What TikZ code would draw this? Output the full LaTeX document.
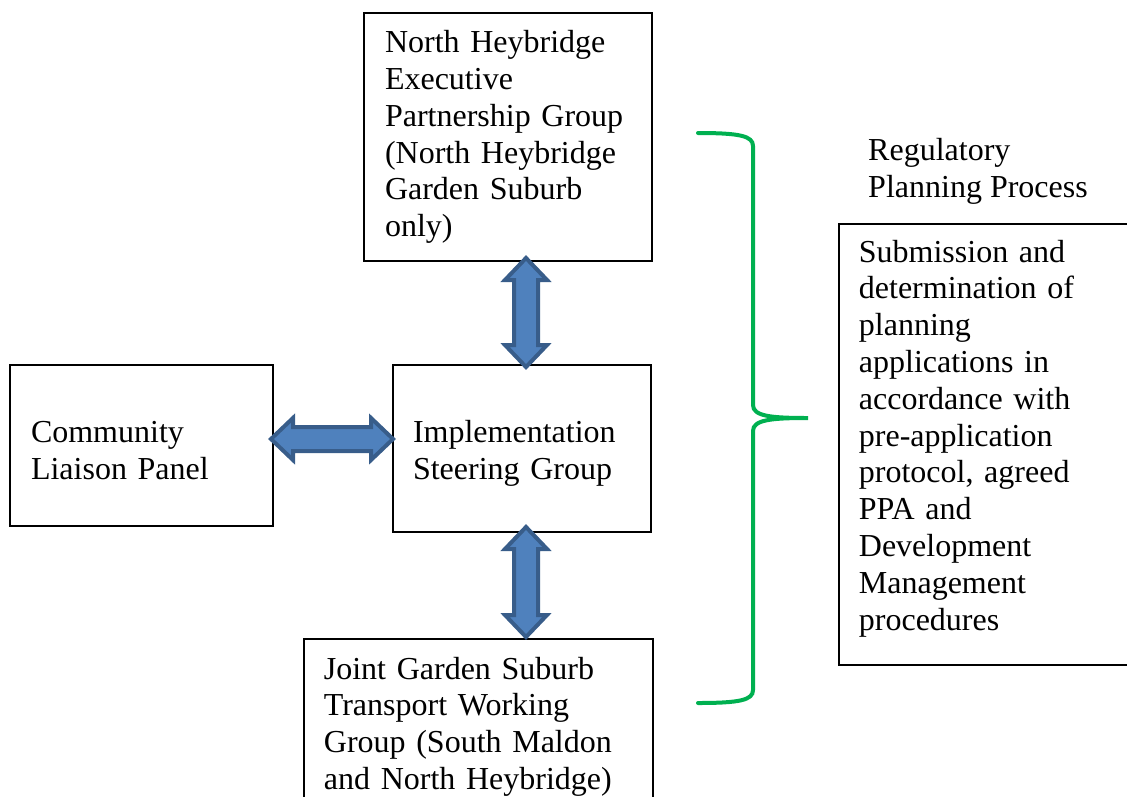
\documentclass[tikz,border=0pt]{standalone}
\usepackage{fontspec}
\setmainfont{Liberation Serif}
\usetikzlibrary{calc}

\definecolor{arrowfill}{HTML}{4F81BD}
\definecolor{arrowline}{HTML}{385D8A}
\definecolor{bracegreen}{HTML}{00B050}

\tikzset{
    box/.style={draw, line width=1.8, align=left, inner xsep=20, inner ysep=0,
        font=\fontsize{32}{36.8}\selectfont},
    label/.style={align=left, inner sep=0, font=\fontsize{32}{36.8}\selectfont},
    fatarrow/.style={fill=arrowfill, draw=arrowline, line width=4, line join=miter},
    brace/.style={draw=bracegreen, line width=4, line cap=round},
}

% invisible struts to move a box text up or down
\newcommand{\tallstrut}[1]{\rule{0pt}{#1}}
\newcommand{\deepstrut}[1]{\rule[-#1]{0pt}{0pt}}

% block arrows between two tips (top to bottom, left to right)
\newcommand{\fatarrowV}[2]{%
    \filldraw[fatarrow] (#1) -- ($(#1)+(21,22)$) -- ($(#1)+(12,22)$) -- ($(#2)+(12,-22)$)
        -- ($(#2)+(21,-22)$) -- (#2) -- ($(#2)+(-21,-22)$) -- ($(#2)+(-12,-22)$)
        -- ($(#1)+(-12,22)$) -- ($(#1)+(-21,22)$) -- cycle;}
\newcommand{\fatarrowH}[2]{%
    \filldraw[fatarrow] (#1) -- ($(#1)+(22,-21)$) -- ($(#1)+(22,-12)$) -- ($(#2)+(-22,-12)$)
        -- ($(#2)+(-22,-21)$) -- (#2) -- ($(#2)+(-22,21)$) -- ($(#2)+(-22,12)$)
        -- ($(#1)+(22,12)$) -- ($(#1)+(22,21)$) -- cycle;}

\begin{document}
\begin{tikzpicture}[x=1pt, y=-1pt]
    \useasboundingbox (0,0) rectangle (1127,796);

    % Draw nodes
    \node[box, minimum width=288, minimum height=248, text width=246] (exec) at (508,137)
        {North Heybridge\\Executive\\Partnership Group\\(North Heybridge\\Garden Suburb\\only)};
    \node[box, minimum width=263, minimum height=161, text width=221] (panel) at (141.5,445.5)
        {\tallstrut{32pt}Community\\Liaison Panel};
    \node[box, minimum width=258, minimum height=167, text width=218] (steer) at (522,448.5)
        {\tallstrut{32pt}Implementation\\Steering Group};
    \node[box, anchor=north west, minimum width=349, text width=309, inner ysep=18] (transport) at (303,638)
        {Joint Garden Suburb\\Transport Working\\Group (South Maldon\\and North Heybridge)};
    \node[box, anchor=north west, minimum width=320, minimum height=441, text width=280] (reg) at (838,223)
        {Submission and\\determination of\\planning\\applications in\\accordance with\\pre-application\\protocol, agreed\\PPA and\\Development\\Management\\procedures\deepstrut{19pt}};
    \node[label, anchor=north west] (regtitle) at (868,138) {Regulatory\\Planning Process};

    % Draw edges
    \coordinate (execTip) at (526,258);
    \coordinate (steerTop) at (526,367);
    \coordinate (steerBot) at (526,527);
    \coordinate (transTip) at (526,637);
    \coordinate (panelTip) at (271,439);
    \coordinate (steerLeft) at (393,439);
    \fatarrowV{execTip}{steerTop}
    \fatarrowV{steerBot}{transTip}
    \fatarrowH{panelTip}{steerLeft}

    % Brace
    \coordinate (bTop) at (698,133);
    \coordinate (bTip) at (808,418);
    \coordinate (bBot) at (698,703);
    \draw[brace] (bTop) .. controls (740,133) and (753,136) .. (753,146) -- (753,405)
        .. controls (753,416) and (770,418) .. (bTip)
        .. controls (770,418) and (753,420) .. (753,431) -- (753,690)
        .. controls (753,700) and (740,703) .. (bBot);
\end{tikzpicture}
\end{document}
